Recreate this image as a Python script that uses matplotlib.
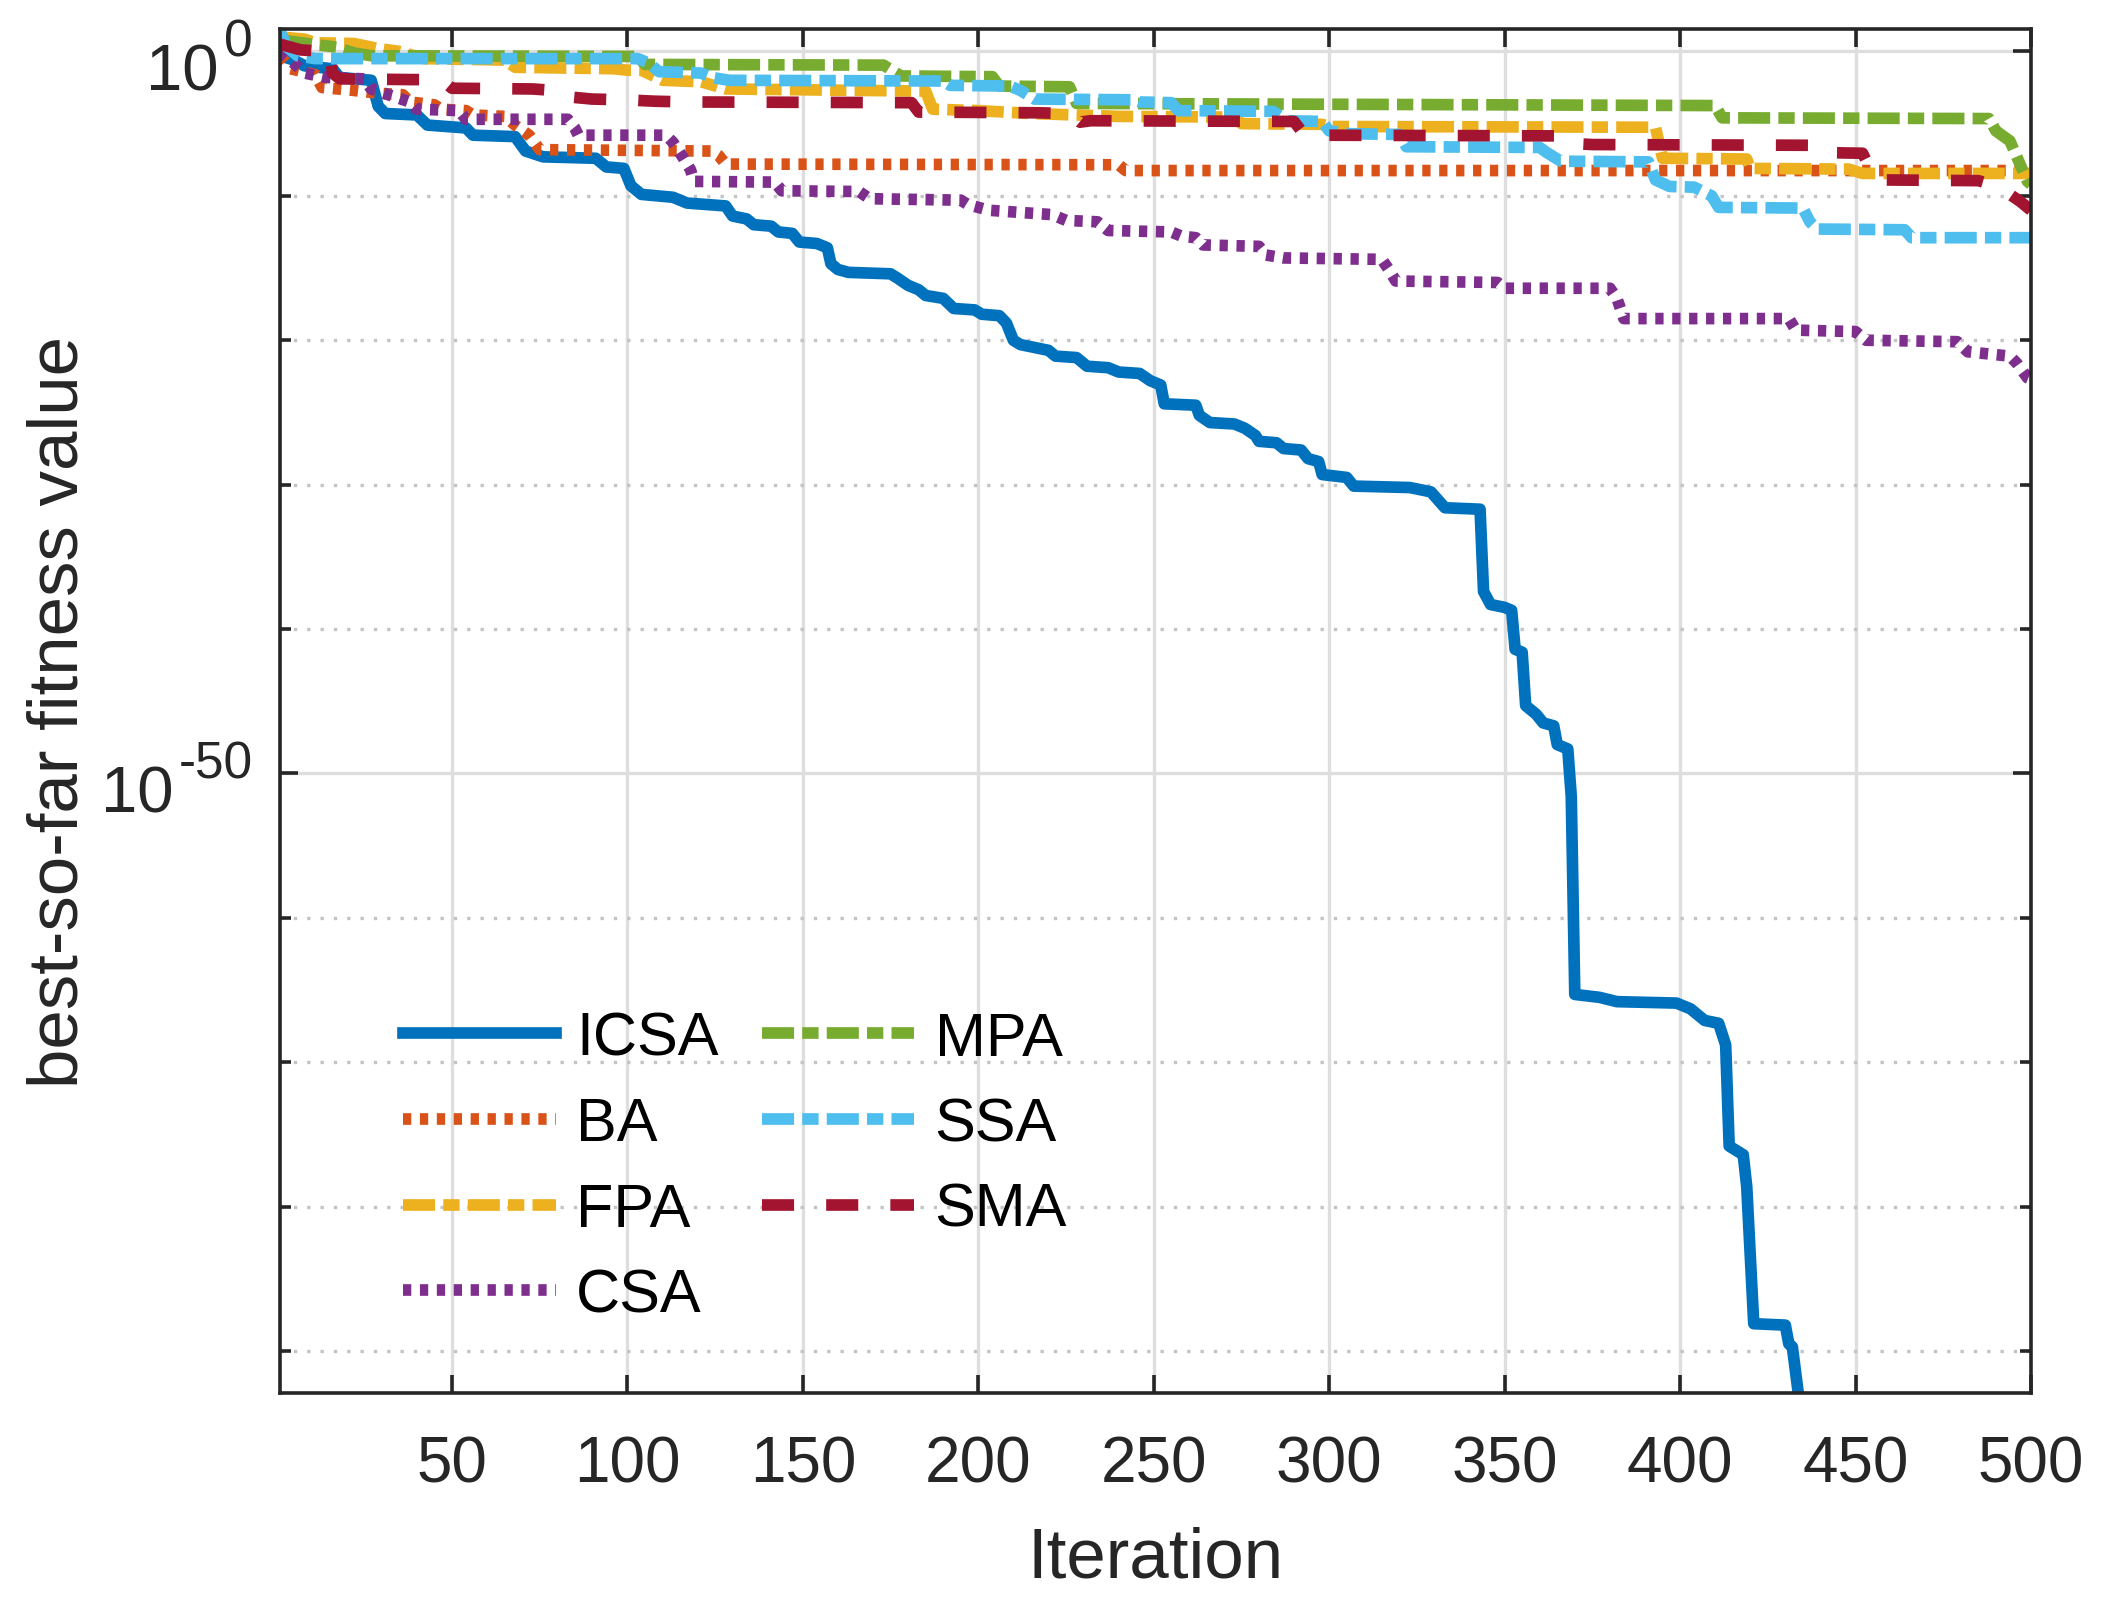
import numpy as np
import matplotlib.pyplot as plt
from matplotlib.ticker import FixedLocator, NullFormatter

plt.rcParams['font.family'] = ['Liberation Sans', 'DejaVu Sans']

# best-so-far curves as (iteration, log10 fitness) break points
icsa_it = [1, 5, 8, 16, 18, 27, 29, 31, 40, 43, 54, 56, 68, 71, 76, 91, 94, 99, 101, 104,
           113, 117, 128, 130, 134, 136, 141, 143, 147, 149, 154, 157, 158, 160, 163, 175,
           177, 180, 183, 185, 190, 193, 199, 201, 206, 208, 210, 212, 220, 222, 228, 231,
           237, 240, 246, 249, 252, 253, 262, 263, 266, 273, 276, 279, 280, 285, 287, 292,
           294, 297, 298, 305, 307, 323, 329, 333, 343, 344, 346, 350, 352, 353, 355, 356,
           359, 361, 364, 365, 368, 369, 370, 377, 382, 399, 403, 407, 411, 413, 414, 418,
           419, 421, 430, 431, 432, 434]
icsa_lg = [-0.3, -0.6, -1.0, -1.2, -1.8, -2.0, -3.8, -4.3, -4.4, -5.1, -5.3, -5.8, -5.9, -6.9,
           -7.3, -7.4, -8.0, -8.1, -9.3, -9.9, -10.1, -10.5, -10.7, -11.4, -11.6, -12.0,
           -12.1, -12.5, -12.6, -13.2, -13.3, -13.6, -14.7, -15.1, -15.3, -15.4, -15.7,
           -16.2, -16.5, -16.9, -17.1, -17.8, -17.9, -18.2, -18.3, -18.8, -20.0, -20.3,
           -20.7, -21.1, -21.2, -21.8, -21.9, -22.2, -22.3, -22.8, -23.1, -24.4, -24.5,
           -25.2, -25.7, -25.8, -26.1, -26.6, -27.0, -27.1, -27.5, -27.6, -28.2, -28.4,
           -29.3, -29.5, -30.1, -30.2, -30.5, -31.6, -31.7, -37.4, -38.3, -38.5, -38.7,
           -41.4, -41.6, -45.3, -45.9, -46.5, -46.7, -48.0, -48.3, -51.6, -65.3, -65.5,
           -65.8, -65.9, -66.3, -67.1, -67.3, -68.8, -75.8, -76.4, -78.6, -88.1, -88.2,
           -89.5, -89.7, -93.5]

ba_it = [1, 4, 11, 13, 22, 29, 36, 38, 45, 47, 54, 56, 65, 68, 72, 75, 124, 126, 128, 240, 242, 500]
ba_lg = [-0.3, -1.2, -1.6, -2.5, -2.7, -2.9, -3.0, -3.5, -3.7, -4.0, -4.1, -4.4, -4.5, -5.1,
         -5.8, -6.8, -6.9, -7.2, -7.8, -7.85, -8.25, -8.25]

fpa_it = [1, 8, 11, 22, 29, 35, 42, 65, 68, 96, 100, 104, 110, 121, 128, 185, 187, 200, 215,
          240, 273, 275, 298, 300, 393, 395, 419, 420, 448, 452, 500]
fpa_lg = [1.0, 0.85, 0.6, 0.55, 0.2, 0.0, -0.5, -0.6, -1.1, -1.2, -1.3, -1.3, -2.0, -2.1,
          -2.6, -2.75, -4.0, -4.1, -4.3, -4.5, -4.55, -5.0, -5.05, -5.2, -5.25, -7.4, -7.45,
          -8.1, -8.15, -8.45, -8.45]

csa_it = [1, 4, 8, 14, 25, 27, 38, 40, 52, 54, 83, 85, 86, 111, 113, 116, 118, 119, 142, 144,
          166, 169, 195, 197, 203, 221, 225, 234, 237, 255, 258, 262, 264, 280, 282, 287, 315,
          317, 319, 348, 350, 380, 382, 384, 431, 433, 450, 453, 479, 482, 494, 496, 499, 500]
csa_lg = [0.0, -0.6, -1.5, -1.8, -1.9, -2.6, -3.5, -4.0, -4.1, -4.7, -4.7, -5.3, -5.8, -5.8,
          -6.3, -7.4, -8.2, -9.0, -9.05, -9.65, -9.7, -10.2, -10.3, -10.6, -11.0, -11.3,
          -11.7, -11.8, -12.4, -12.5, -12.8, -12.9, -13.4, -13.5, -14.1, -14.3, -14.4, -15.1,
          -15.9, -16.0, -16.4, -16.4, -17.1, -18.5, -18.5, -19.3, -19.4, -20.0, -20.1, -20.8,
          -21.1, -21.6, -22.6, -22.7]

mpa_it = [1, 10, 17, 22, 27, 103, 105, 173, 176, 178, 204, 206, 226, 228, 410, 412, 488, 490,
          494, 499, 500]
mpa_lg = [0.8, 0.5, 0.3, -0.1, -0.3, -0.35, -0.9, -0.95, -1.4, -1.7, -1.75, -2.4, -2.45, -3.6,
          -3.75, -4.6, -4.65, -5.5, -6.2, -9.0, -9.2]

ssa_it = [1, 3, 6, 11, 103, 106, 109, 121, 124, 129, 190, 192, 209, 212, 216, 244, 246, 255,
          257, 284, 288, 298, 300, 306, 320, 322, 360, 362, 366, 391, 393, 397, 404, 409, 411,
          435, 437, 439, 464, 466, 500]
ssa_lg = [1.4, 0.3, -0.3, -0.5, -0.5, -0.8, -1.4, -1.5, -1.8, -2.0, -2.05, -2.35, -2.4, -2.7,
          -3.3, -3.35, -3.5, -3.55, -4.1, -4.15, -4.8, -4.85, -5.5, -5.7, -5.75, -6.6, -6.65,
          -7.0, -7.6, -7.65, -8.9, -9.35, -9.4, -10.0, -10.8, -10.85, -11.8, -12.3, -12.35,
          -12.9, -12.9]

sma_it = [1, 7, 15, 16, 18, 38, 47, 50, 73, 79, 81, 90, 99, 108, 117, 181, 183, 217, 226, 229,
          232, 290, 293, 368, 371, 375, 437, 439, 452, 455, 458, 485, 490, 494, 497, 500]
sma_lg = [0.5, 0.1, 0.0, -1.5, -1.9, -1.95, -1.95, -2.55, -2.6, -2.7, -3.1, -3.3, -3.35, -3.45,
          -3.5, -3.55, -4.2, -4.25, -4.3, -4.9, -4.8, -4.85, -5.8, -5.85, -6.4, -6.45, -6.5,
          -7.0, -7.05, -8.5, -8.9, -8.95, -9.3, -9.9, -10.4, -11.0]

names = ['ICSA', 'BA', 'FPA', 'CSA', 'MPA', 'SSA', 'SMA']
colors = ['#0072BD', '#D95319', '#EDB120', '#7E2F8E', '#77AC30', '#4DBEEE', '#A2142F']
dotted = (0, (0.71, 0.74))
dashed = (0, (2.75, 2.75))
dashdot = (0, (2.75, 0.7, 1.4, 0.7))
styles = ['-', dotted, dashdot, dotted, dashdot, dashdot, dashed]
series = [(icsa_it, icsa_lg), (ba_it, ba_lg), (fpa_it, fpa_lg), (csa_it, csa_lg),
          (mpa_it, mpa_lg), (ssa_it, ssa_lg), (sma_it, sma_lg)]

# y tick labels: mantissa and exponent (exponent is drawn large, like the original)
ytick_exp = ['0', '-50']

fig = plt.figure(figsize=(10.51, 8.03), dpi=200)
ax = fig.add_axes([0.1332, 0.132, 0.833, 0.8493])

for name, col, ls, (xs, lg) in zip(names, colors, styles, series):
    ax.plot(xs, 10.0 ** np.array(lg), color=col, linestyle=ls, linewidth=4.2,
            dash_capstyle='butt', label=name)

ax.set_yscale('log')
ax.set_xlim(1, 500)
ax.set_ylim(10 ** -92.9, 10 ** 1.55)

ax.set_xticks(np.arange(50, 501, 50))
ytick_vals = [10.0 ** -int(e.lstrip('-')) if e != '0' else 1.0 for e in ytick_exp]
ax.set_yticks(ytick_vals)
ax.set_yticklabels([''] * len(ytick_vals))
ax.yaxis.set_minor_locator(FixedLocator([10.0 ** -k for k in (10, 20, 30, 40, 60, 70, 80, 90)]))
ax.yaxis.set_minor_formatter(NullFormatter())

for val, ex in zip(ytick_vals, ytick_exp):
    base_off = -38.2 if len(ex) > 1 else -22.0
    ax.annotate('10', xy=(0, val), xycoords=('axes fraction', 'data'),
                xytext=(base_off, -13.6), textcoords='offset points',
                ha='right', va='baseline', fontsize=23.5, color='#262626')
    ax.annotate(ex, xy=(0, val), xycoords=('axes fraction', 'data'),
                xytext=(base_off + 1.9, -1.4), textcoords='offset points',
                ha='left', va='baseline', fontsize=18.5, color='#262626')

ax.tick_params(which='both', direction='in', top=True, right=True, colors='#262626',
               labelsize=23, width=1.3)
ax.tick_params(which='major', length=6.5)
ax.tick_params(which='minor', length=4)
ax.tick_params(axis='x', pad=15)
for sp in ax.spines.values():
    sp.set_linewidth(1.3)
    sp.set_color('#262626')

ax.set_axisbelow(True)
ax.grid(True, which='major', color='#dedede', linewidth=1.2, linestyle='-')
ax.grid(True, which='minor', axis='y', color='#c4c4c4', linewidth=1.2, linestyle=(0, (1, 3)))

ax.set_xlabel('Iteration', fontsize=25.5, color='#262626', labelpad=11)
ax.set_ylabel('best-so-far fitness value', fontsize=25.5, color='#262626')
ax.yaxis.set_label_coords(-0.107, 0.5)

ax.legend(loc='upper left', bbox_to_anchor=(0.0705, 0.2804), ncol=2, frameon=False,
          fontsize=22, handlelength=2.5, handletextpad=0.33, columnspacing=0.7,
          labelspacing=0.47, borderpad=0, borderaxespad=0, labelcolor='black')

fig.savefig('out.png', dpi=200)
